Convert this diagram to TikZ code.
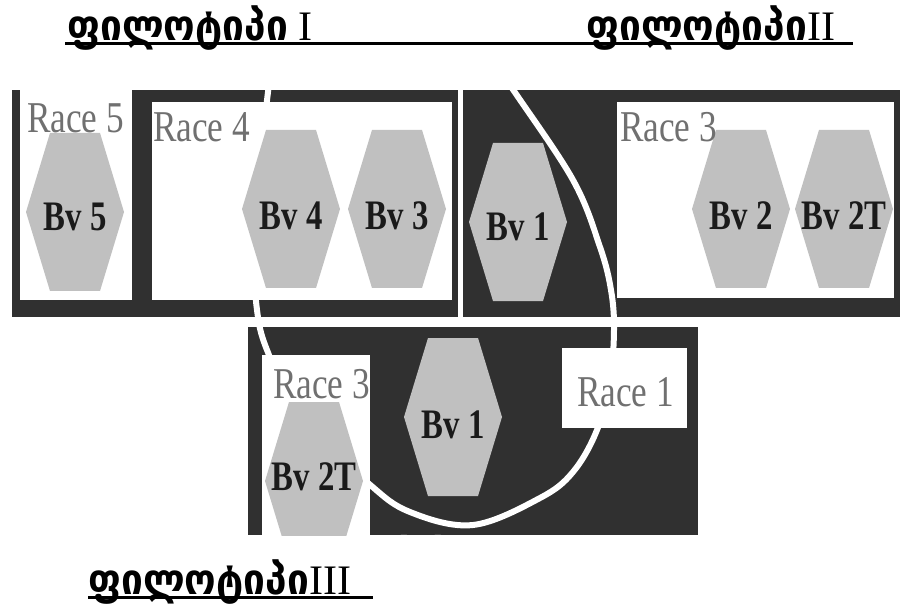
\documentclass[tikz,border=0pt]{standalone}
\usepackage{fontspec}
\setmainfont{Liberation Serif}
\newfontfamily\geo{DejaVu Sans}
\definecolor{bandc}{HTML}{303030}
\definecolor{hexg}{HTML}{C0C0C0}
\definecolor{racec}{HTML}{707070}
\definecolor{bvc}{HTML}{1A1A1A}
\newcommand\geoword{{\geo\bfseries\fontsize{37}{37}\selectfont\scalebox{1.05}[1.15]{ფილოტიპი}}}
\newcommand\romnum[1]{{\fontsize{42}{42}\selectfont #1}}
\tikzset{
  hexa/.pic={\fill[hexg] (-49,0) -- (-25,-79) -- (25,-79) -- (49,0) -- (25,79) -- (-25,79) -- cycle;},
  bvtext/.style={inner sep=0, text=bvc, xscale=0.78, font=\bfseries\fontsize{42}{42}\selectfont},
  racetext/.style={inner sep=0, anchor=base west, text=racec, xscale=0.8, font=\fontsize{44}{44}\selectfont},
  geotitle/.style={inner sep=0, anchor=base west},
  whitebox/.style={fill=white},
  uline/.style={line width=3pt}
}
\begin{document}
\begin{tikzpicture}[x=1pt,y=-1pt]
\useasboundingbox (0,0) rectangle (900,604);
\fill[white] (0,0) rectangle (900,604);

% titles
\node[geotitle] (g1) at (67,41) {\geoword\hspace{10pt}\romnum{I}};
\node[geotitle] (g2) at (586,41) {\geoword\romnum{II}};
\node[geotitle] (g3) at (88,594) {\geoword\romnum{III}};
\coordinate (u1a) at (65,44);
\coordinate (u1b) at (853,44);
\coordinate (u3a) at (88,597);
\coordinate (u3b) at (373,597);
\draw[uline] (u1a) -- (u1b);
\draw[uline] (u3a) -- (u3b);

% dark bands
\fill[bandc] (12,90) rectangle (900,317);
\fill[bandc] (248,327) rectangle (698,535);

% white arc
\begin{scope}
\clip (12,90) rectangle (900,317) (248,327) rectangle (698,535);
\draw[white, line width=6pt] plot[smooth, tension=0.6] coordinates {
 (276,40) (268,92) (259,180) (255,260) (257,310) (267,350) (300,418) (368,483)
 (410,512) (473,525) (540,498) (573,472) (597,430) (610,380) (614,330) (611,290)
 (600,247) (573,180) (512,88) (480,40)};
\end{scope}

% white boxes
\fill[whitebox] (20,90) rectangle (132,300);
\fill[whitebox] (152,102) rectangle (452,300);
\fill[whitebox] (617,102) rectangle (894,298);
\fill[white] (458,90) rectangle (463,317);
\fill[whitebox] (262,355) rectangle (370,535);
\fill[whitebox] (562,348) rectangle (687,428);

% hexagons
\pic (h5) at (75,212) {hexa};
\pic (h4) at (291,209) {hexa};
\pic (h3) at (397,209) {hexa};
\pic (h1) at (518,222) {hexa};
\pic (h2) at (741,209) {hexa};
\pic (h2t) at (844,209) {hexa};
\pic (hb1) at (453,417) {hexa};
\begin{scope}
\clip (248,327) rectangle (698,535);
\pic (hb2t) at (314,481) {hexa};
\node[inner sep=0, anchor=base west, text=white, xscale=0.78, font=\bfseries\fontsize{42}{42}\selectfont] (foot) at (380,564) {Phylotype III (1,2,4,5)};
\end{scope}

% hexagon labels
\node[bvtext] (b5) at (75,217) {Bv 5};
\node[bvtext] (b4) at (291,216) {Bv 4};
\node[bvtext] (b3) at (397,216) {Bv 3};
\node[bvtext] (b1) at (518,227) {Bv 1};
\node[bvtext] (b2) at (741,216) {Bv 2};
\node[bvtext] (b2t) at (844,216) {Bv 2T};
\node[bvtext] (bb1) at (453,425) {Bv 1};
\node[bvtext] (bb2t) at (314,477) {Bv 2T};

% race labels
\node[racetext] (r5) at (27,133) {Race 5};
\node[racetext] (r4) at (153,142) {Race 4};
\node[racetext] (r3) at (620,142) {Race 3};
\node[racetext] (rb3) at (273,398) {Race 3};
\node[racetext] (rb1) at (577,406) {Race 1};
\end{tikzpicture}
\end{document}
